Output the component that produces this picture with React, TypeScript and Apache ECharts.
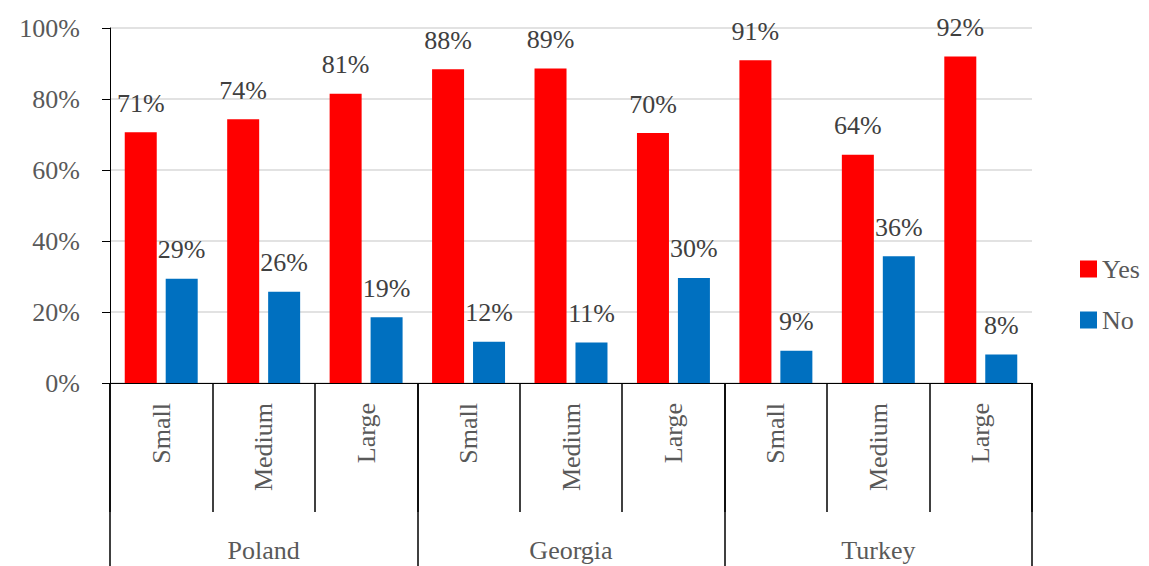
import React, { useEffect, useRef } from "react";
import * as echarts from "echarts";

const sizes = ["Small", "Medium", "Large", "Small", "Medium", "Large", "Small", "Medium", "Large"];
const countries = ["Poland", "Georgia", "Turkey"];
const yesValues = [70.6, 74.3, 81.5, 88.4, 88.6, 70.4, 90.9, 64.3, 92.0];
const noValues = [29.4, 25.7, 18.5, 11.6, 11.4, 29.6, 9.1, 35.7, 8.0];
const yesLabels = ["71%", "74%", "81%", "88%", "89%", "70%", "91%", "64%", "92%"];
const noLabels = ["29%", "26%", "19%", "12%", "11%", "30%", "9%", "36%", "8%"];

const FONT = "Liberation Serif";
const FS = 26;

export default function App() {
  const ref = useRef<HTMLDivElement>(null);
  useEffect(() => {
    if (!ref.current) return;
    const chart = echarts.init(ref.current, null, { renderer: "svg" });
    chart.setOption({
      animation: false,
      grid: { left: 110, right: 117, top: 28, bottom: 183, containLabel: false },
      legend: {
        orient: "vertical",
        left: 1075,
        top: 251,
        itemWidth: 17,
        itemHeight: 17,
        itemGap: 25,
        icon: "rect",
        textStyle: { fontFamily: FONT, fontSize: FS, color: "#595959" },
        data: ["Yes", "No"],
      },
      xAxis: [
        {
          type: "category",
          data: sizes,
          position: "bottom",
          axisLine: { show: true, lineStyle: { color: "#000", width: 1 } },
          axisTick: { show: true, interval: 0, length: 129, lineStyle: { color: "#000", width: 1.5 } },
          axisLabel: { interval: 0, rotate: 90, margin: 20, fontFamily: FONT, fontSize: FS, color: "#595959" },
        },
        {
          type: "category",
          data: countries,
          position: "bottom",
          axisLine: { show: false },
          axisTick: { show: true, interval: 0, length: 183, lineStyle: { color: "#000", width: 1.5 } },
          axisLabel: { interval: 0, margin: 154, fontFamily: FONT, fontSize: FS, color: "#595959" },
        },
      ],
      yAxis: {
        type: "value",
        min: 0,
        max: 100,
        interval: 20,
        axisLine: { show: true, lineStyle: { color: "#000", width: 1 } },
        axisTick: { show: true, length: 8, lineStyle: { color: "#000" } },
        axisLabel: { formatter: "{value}%", margin: 30, fontFamily: FONT, fontSize: FS, color: "#595959" },
        splitLine: { show: true, lineStyle: { color: "#d9d9d9", width: 1.5 } },
      },
      series: [
        {
          name: "Yes",
          type: "bar",
          barWidth: 32,
          barGap: "28%",
          data: yesValues.map((v, i) => ({ value: v, label: { formatter: yesLabels[i], fontFamily: FONT, fontSize: FS } })),
          itemStyle: { color: "#ff0000" },
          label: { show: true, position: "top", distance: 16, fontFamily: FONT, fontSize: FS, color: "#404040" },
        },
        {
          name: "No",
          type: "bar",
          barWidth: 32,
          barGap: "28%",
          data: noValues.map((v, i) => ({ value: v, label: { formatter: noLabels[i], fontFamily: FONT, fontSize: FS } })),
          itemStyle: { color: "#0070c0" },
          label: { show: true, position: "top", distance: 16, fontFamily: FONT, fontSize: FS, color: "#404040" },
        },
      ],
    });
    return () => chart.dispose();
  }, []);
  return (
    <div
      ref={ref}
      style={{ position: "absolute", left: 0, top: 0, width: 1149, height: 566, background: "#fff" }}
    />
  );
}
